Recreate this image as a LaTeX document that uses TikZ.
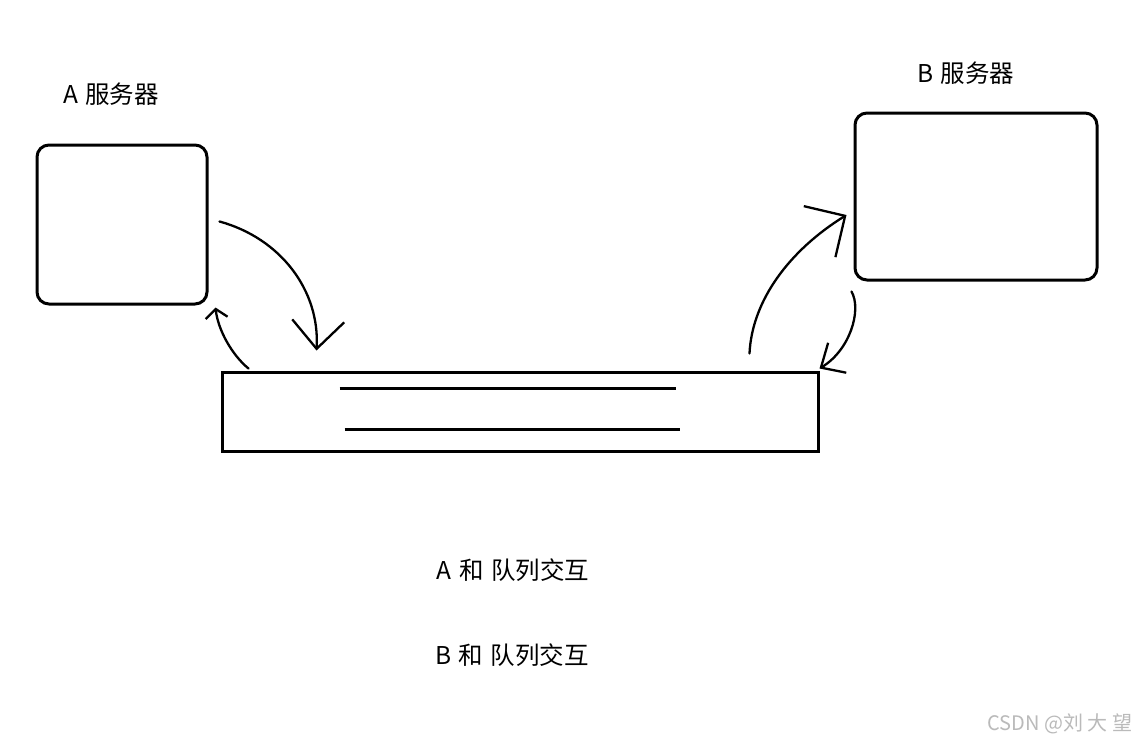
\documentclass[tikz,border=0pt]{standalone}
\usepackage{fontspec}
\setmainfont{Noto Sans CJK SC}
\usetikzlibrary{arrows.meta,calc}
\definecolor{inkblack}{RGB}{0,0,0}
\definecolor{markgray}{RGB}{186,186,186}
\tikzset{
  font=\fontsize{24.5}{27}\selectfont,
  server/.style={
    draw=inkblack,
    line width=3pt,
    rounded corners=12pt,
    inner sep=0pt
  },
  queuebox/.style={
    draw=inkblack,
    line width=3pt,
    inner sep=0pt
  },
  slot/.style={draw=inkblack,line width=3pt},
  hand/.style={draw=inkblack,line width=2.3pt,line cap=round},
  caption/.style={text=inkblack,inner sep=0pt,anchor=center},
  watermark/.style={text=markgray,inner sep=0pt,font=\fontsize{20}{22}\selectfont}
}

\begin{document}
\begin{tikzpicture}[x=1pt,y=-1pt]
  \useasboundingbox[fill=white] (0,0) rectangle (1145,744);

  \node[server,minimum width=170pt,minimum height=159pt] at (122,224.5) (abox) {};
  \node[server,minimum width=242pt,minimum height=167pt] at (976,196.5) (bbox) {};
  \node[queuebox,minimum width=596pt,minimum height=79pt] at (520,411.5) (queue) {};

  \node[caption] at (111,94) (alabel) {A\hspace{0.3em}服务器};
  \node[caption] at (966,73) (blabel) {B\hspace{0.3em}服务器};

  % messages sitting in the queue
  \draw[slot] ($(queue.north west)+(119,18)$) -- ($(queue.north west)+(455,18)$);
  \draw[slot] ($(queue.north west)+(124,59)$) -- ($(queue.north west)+(459,59)$);

  % A puts into the queue and takes back from it
  \draw[hand,-{Straight Barb[length=28pt,width=52pt]}]
    ($(abox.east)+(11,-3)$) .. controls (280,238) and (320,290) .. ($(queue.north west)+(96,-20)$);
  \draw[hand,-{Straight Barb[length=9pt,width=22pt]}]
    ($(queue.north west)+(28,-2)$) .. controls (232,355) and (218,330) .. ($(abox.south east)+(7,2)$);

  % B takes from the queue and puts back into it
  \draw[hand,-{Straight Barb[length=30pt,width=60pt]}]
    ($(queue.north east)+(-70,-17)$) .. controls (752,300) and (790,250) .. ($(bbox.west)+(-7,18.5)$);
  \draw[hand,-{Straight Barb[length=19pt,width=35pt]}]
    ($(bbox.south west)+(-2,10)$) .. controls (862,310) and (850,350) .. ($(queue.north east)+(0,-2)$);

  \node[caption] at (513,570) (atalk) {A\hspace{0.3em}和\hspace{0.3em}队列交互};
  \node[caption] at (512,655) (btalk) {B\hspace{0.3em}和\hspace{0.3em}队列交互};

  \node[watermark] at (1060,724) (mark) {CSDN @刘 大 望};
\end{tikzpicture}
\end{document}
